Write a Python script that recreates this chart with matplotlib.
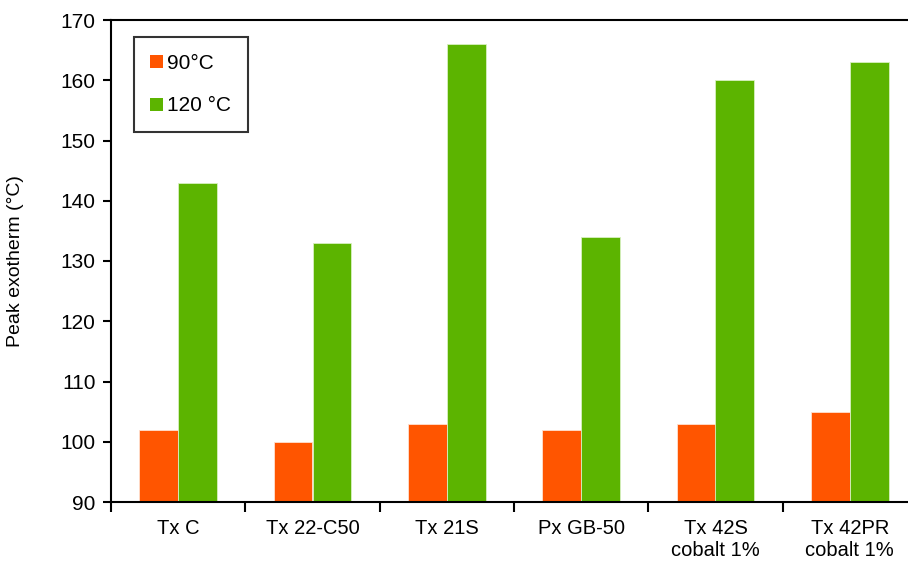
import numpy as np
import matplotlib
matplotlib.use("Agg")
import matplotlib.pyplot as plt

categories = ["Tx C", "Tx 22-C50", "Tx 21S", "Px GB-50", "Tx 42S\ncobalt 1%", "Tx 42PR\ncobalt 1%"]
temp_90 = [102, 100, 103, 102, 103, 105]
temp_120 = [143, 133, 166, 134, 160, 163]

ORANGE = "#FF5500"
GREEN = "#5CB400"

plt.rcParams["font.family"] = ["Liberation Sans", "DejaVu Sans"]


def main():
    fig = plt.figure(figsize=(9.08, 5.64), dpi=100)
    ax = fig.add_axes([111 / 908, 1 - 502 / 564, 806 / 908, 482 / 564])

    x = np.arange(len(categories))
    w = 0.29
    ax.bar(x - w / 2, temp_90, w, color=ORANGE, edgecolor="#ffe0d0", linewidth=0.6, label="90°C")
    ax.bar(x + w / 2, temp_120, w, color=GREEN, edgecolor="#d8f0c0", linewidth=0.6, label="120 °C")

    ax.set_ylim(90, 170)
    ax.set_xlim(-0.5, len(categories) - 0.5)
    ax.set_yticks(range(90, 171, 10))
    ax.set_xticks(x)
    ax.set_xticklabels(categories, fontsize=14.5, linespacing=1.25)
    ax.set_xticks(np.arange(-0.5, len(categories), 1), minor=True)
    ax.tick_params(axis="x", which="major", length=0, pad=12)
    ax.tick_params(axis="x", which="minor", length=7, width=1.5, direction="out")
    ax.tick_params(axis="y", length=6, width=1.5, direction="out", labelsize=15, pad=5)
    ax.set_ylabel("Peak exotherm (°C)", fontsize=14, labelpad=26)

    for s in ax.spines.values():
        s.set_linewidth(1.5)

    leg = ax.legend(loc="upper left", bbox_to_anchor=(0.028, 0.965), fontsize=15,
                    frameon=True, fancybox=False, edgecolor="black",
                    handlelength=0.6, handleheight=0.6, handletextpad=0.2,
                    labelspacing=1.15, borderpad=0.8, borderaxespad=0)
    leg.get_frame().set_linewidth(1.5)
    for h in leg.legend_handles:
        h.set_linewidth(0)

    fig.savefig("out.png", dpi=100)


if __name__ == "__main__":
    main()
